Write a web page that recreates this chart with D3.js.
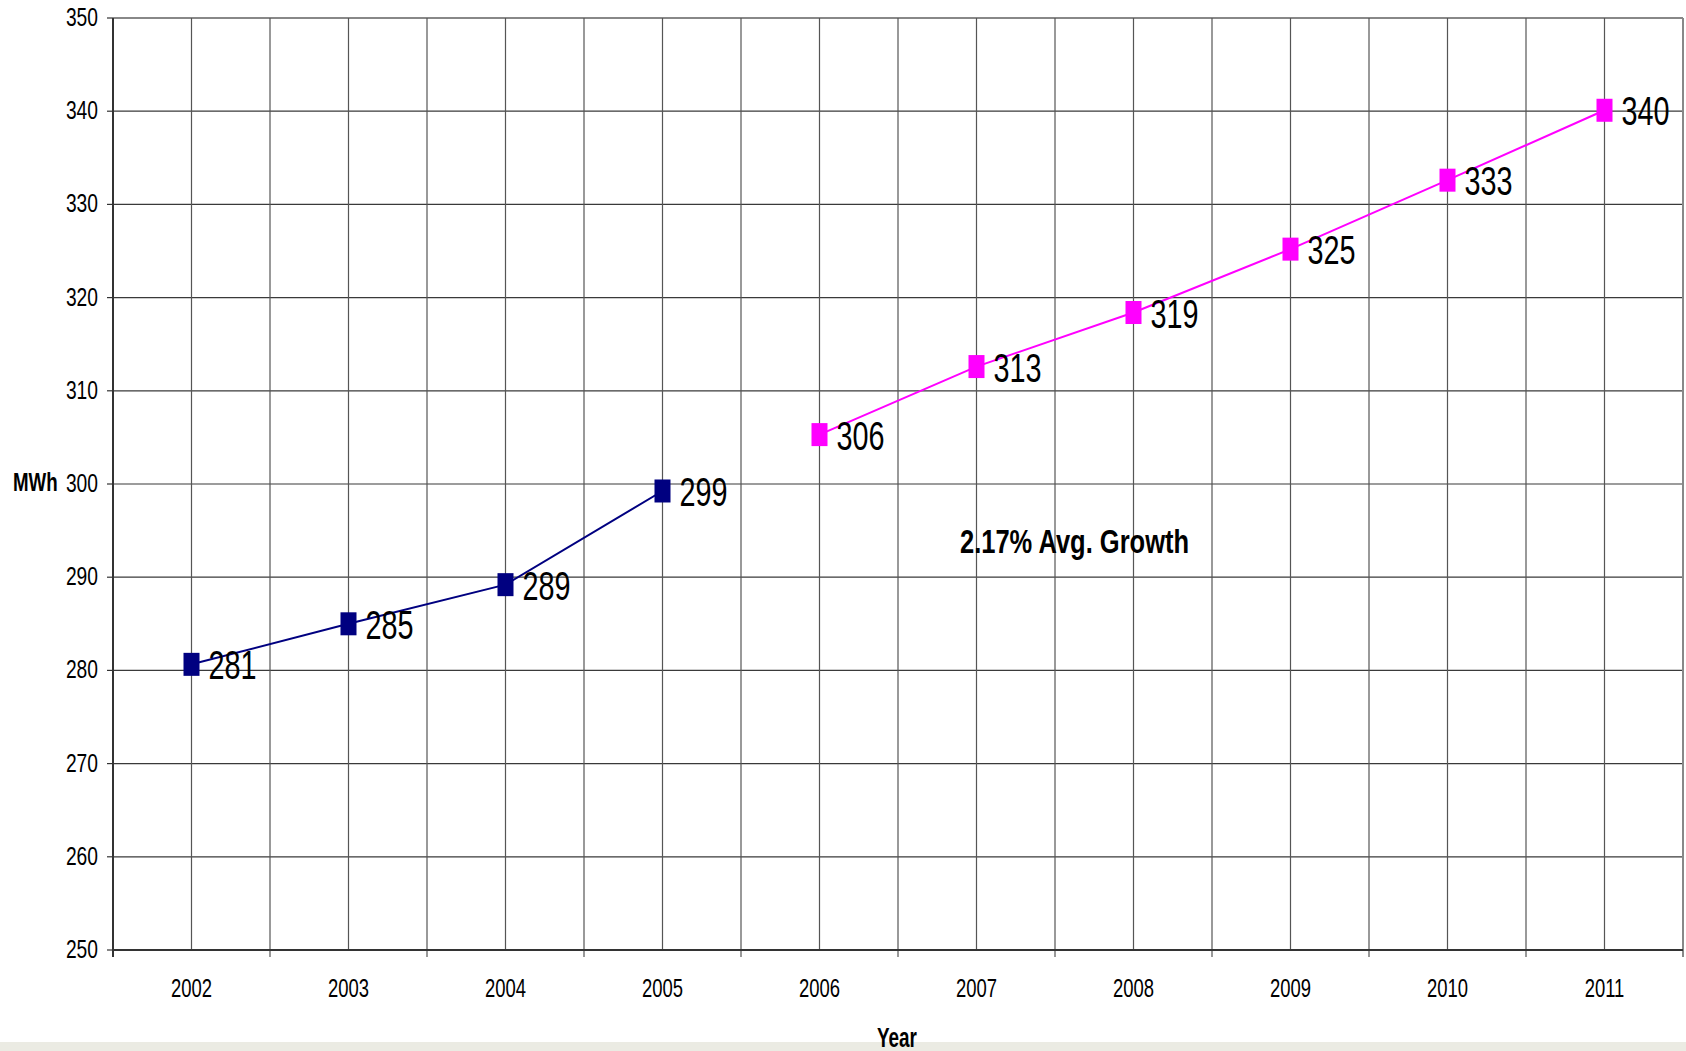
<!DOCTYPE html>
<html>
<head>
<meta charset="utf-8">
<script src="https://cdn.jsdelivr.net/npm/d3@7"></script>
<style>
  html, body { margin: 0; padding: 0; background: #fff; }
  svg { display: block; }
</style>
</head>
<body>
<svg id="chart" width="1686" height="1051"></svg>
<script>
// ---- data ----
const years = ["2002","2003","2004","2005","2006","2007","2008","2009","2010","2011"];
const actualYears = ["2002","2003","2004","2005"];
const actualValues = [280.65, 285.0, 289.2, 299.25];
const actualLabels = ["281","285","289","299"];
const forecastYears = ["2006","2007","2008","2009","2010","2011"];
const forecastValues = [305.3, 312.6, 318.4, 325.2, 332.6, 340.1];
const forecastLabels = ["306","313","319","325","333","340"];
const yTicks = [250,260,270,280,290,300,310,320,330,340,350];
const yTitle = "MWh";
const xTitle = "Year";
const note = "2.17% Avg. Growth";

// ---- layout ----
const W = 1686, H = 1051;
const L = 113, R = 1683, T = 18, B = 950;
const FONT = "'Liberation Sans', Arial, sans-serif";

const svg = d3.select("#chart");

svg.append("rect").attr("x",0).attr("y",1042).attr("width",W).attr("height",H-1042).attr("fill","#ebebe3");

const x = d3.scaleBand().domain(years).range([L, R]).padding(0);
const y = d3.scaleLinear().domain([250, 350]).range([B, T]);

// horizontal gridlines
svg.append("g").selectAll("line").data(yTicks).join("line")
  .attr("x1", L).attr("x2", R)
  .attr("y1", d => y(d)).attr("y2", d => y(d))
  .attr("stroke", d => d === 350 ? "#888" : "#3a3a3a")
  .attr("stroke-width", d => d === 350 ? 2 : 1.2);

// vertical gridlines at category centers
svg.append("g").selectAll("line").data(years).join("line")
  .attr("x1", d => x(d) + x.bandwidth()/2).attr("x2", d => x(d) + x.bandwidth()/2)
  .attr("y1", T).attr("y2", B)
  .attr("stroke", "#555").attr("stroke-width", 1.2);

// vertical gridlines at band boundaries (+ ticks below axis)
const bounds = years.map(d => x(d)).concat([x.range()[1]]);
svg.append("g").selectAll("line").data(bounds.slice(1)).join("line")
  .attr("x1", d => d).attr("x2", d => d)
  .attr("y1", T).attr("y2", B + 7)
  .attr("stroke", (d,i) => i === bounds.length - 2 ? "#888" : "#555")
  .attr("stroke-width", (d,i) => i === bounds.length - 2 ? 2 : 1.2);

// y axis line + ticks
svg.append("line").attr("x1", L).attr("x2", L).attr("y1", T).attr("y2", B + 7)
  .attr("stroke", "#333").attr("stroke-width", 2);
svg.append("g").selectAll("line").data(yTicks).join("line")
  .attr("x1", L - 6).attr("x2", L).attr("y1", d => y(d)).attr("y2", d => y(d))
  .attr("stroke", "#333").attr("stroke-width", 1.2);
// x axis line
svg.append("line").attr("x1", L).attr("x2", R).attr("y1", B).attr("y2", B)
  .attr("stroke", "#333").attr("stroke-width", 2);

function txt(g, s, tx, ty, size, sx, anchor, weight) {
  g.append("text")
    .attr("transform", `translate(${tx},${ty}) scale(${sx},1)`)
    .attr("font-family", FONT).attr("font-size", size)
    .attr("font-weight", weight || "normal")
    .attr("text-anchor", anchor || "start")
    .attr("fill", "#000").text(s);
}

// y tick labels
const yl = svg.append("g");
yTicks.forEach(t => txt(yl, String(t), 98, y(t) + 8, 26, 0.74, "end"));
// x tick labels
const xl = svg.append("g");
years.forEach(yr => txt(xl, yr, x(yr) + x.bandwidth()/2, 997, 26, 0.71, "middle"));

// titles
txt(svg, yTitle, 13, 491, 26, 0.72, "start", "bold");
txt(svg, xTitle, 897, 1047, 27, 0.7, "middle", "bold");
txt(svg, note, 960, 553, 34, 0.75, "start", "bold");

// series
function series(ys, vals, labels, color) {
  const pts = ys.map((yr, i) => ({ cx: x(yr) + x.bandwidth()/2, cy: y(vals[i]), lab: labels[i] }));
  const line = d3.line().x(d => d.cx).y(d => d.cy);
  svg.append("path").datum(pts).attr("d", line)
    .attr("fill", "none").attr("stroke", color).attr("stroke-width", 2);
  svg.append("g").selectAll("rect").data(pts).join("rect")
    .attr("x", d => d.cx - 8).attr("y", d => d.cy - 11.5)
    .attr("width", 16).attr("height", 23).attr("fill", color);
  const g = svg.append("g");
  pts.forEach(d => txt(g, d.lab, d.cx + 17, d.cy + 15, 40, 0.72, "start"));
}
series(actualYears, actualValues, actualLabels, "#000080");
series(forecastYears, forecastValues, forecastLabels, "#ff00ff");
</script>
</body>
</html>
